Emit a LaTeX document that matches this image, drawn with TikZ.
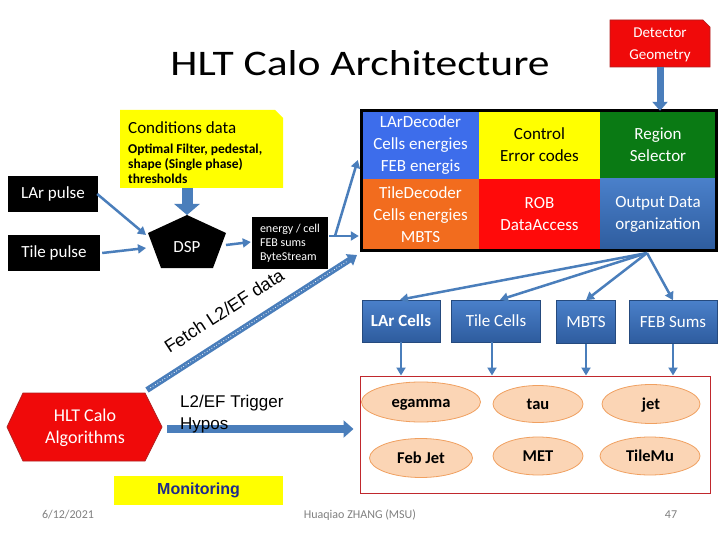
\documentclass[tikz,border=0pt]{standalone}
\usepackage{fontspec}
\setmainfont{Carlito}
\newfontfamily\arialf{Liberation Sans}
\usetikzlibrary{shapes.geometric,arrows.meta,calc}
\definecolor{abl}{HTML}{4A7EBB}
\definecolor{larblue}{HTML}{3D6DEB}
\definecolor{ctrlyel}{HTML}{FFFF00}
\definecolor{regg}{HTML}{0A7A14}
\definecolor{tileor}{HTML}{F26C1E}
\definecolor{robred}{HTML}{FF0A0A}
\definecolor{steelt}{HTML}{4A80CA}
\definecolor{steelb}{HTML}{2E5C9E}
\definecolor{peach}{HTML}{FBD5B5}
\definecolor{peachb}{HTML}{F0A060}
\definecolor{framec}{HTML}{C0282D}
\definecolor{monblue}{HTML}{1F2A8C}
\definecolor{footg}{HTML}{808080}
\definecolor{hexred}{HTML}{F00A0A}
\definecolor{hexbd}{HTML}{B02020}
\begin{document}
\begin{tikzpicture}[x=1pt,y=-1pt,
  cell/.style={rectangle, inner sep=0, align=center, text=white, font=\fontsize{17}{22}\selectfont},
  blk/.style={rectangle, fill=black, text=white, inner sep=0},
  outbox/.style={rectangle, inner sep=0, top color=steelt, bottom color=steelb, draw=steelb!80!black, line width=0.6, text=white, font=\fontsize{17}{20}\selectfont},
  ell/.style={ellipse, inner sep=0, fill=peach, draw=peachb, line width=0.8, text height=12pt, text depth=1pt, font=\bfseries\fontsize{16.5}{19}\selectfont},
  arr/.style={abl, line width=2.5, -{Triangle[width=9,length=8]}},
  blockarr/.style={abl, line width=11, -{Triangle[width=25,length=11]}},
  foot/.style={text=footg, font=\fontsize{12}{14}\selectfont}
]
\useasboundingbox (0,0) rectangle (720,540);
\fill[white] (0,0) rectangle (720,540);

% title
\node[font=\fontsize{36}{40}\selectfont, inner sep=0] (title) at (360,63) {\scalebox{1.21}[1]{HLT Calo Architecture}};

% detector geometry
\path[fill=hexred, draw=hexbd, line width=0.6] (610,20) -- (703,20) -- (710,27) -- (710,67) -- (610,67) -- cycle;
\node[minimum width=100, minimum height=47, inner sep=0, align=center, text=white, font=\fontsize{15}{22}\selectfont] (det) at (660,45) {Detector\\Geometry};

% grid
\node[cell, fill=larblue, minimum width=117, minimum height=68] (lard) at (420.5,145) {LArDecoder\\Cells energies\\FEB energis};
\node[cell, fill=ctrlyel, text=black, minimum width=121, minimum height=68] (ctrl) at (539.5,145) {Control\\Error codes};
\node[cell, fill=regg, minimum width=116, minimum height=68] (reg) at (658,145) {Region\\Selector};
\node[cell, fill=tileor, minimum width=117, minimum height=71] (tiled) at (420.5,214.5) {TileDecoder\\Cells energies\\MBTS};
\node[cell, fill=robred, minimum width=121, minimum height=71] (rob) at (539.5,214.5) {ROB\\DataAccess};
\node[cell, top color=steelt, bottom color=steelb, minimum width=116, minimum height=71] (outd) at (658,214.5) {Output Data\\organization};
\draw[line width=3] (lard.north west) rectangle (outd.south east);

\draw[abl, line width=7, -{Triangle[width=15,length=9]}] (det.south |- 0,67) -- (det.south |- lard.north);

% conditions
\path[fill=ctrlyel] (120,110) -- (275,110) -- (283,118) -- (283,188) -- (120,188) -- cycle;
\node[minimum width=163, minimum height=78, inner sep=0] (cond) at (201.5,149) {};
\node[anchor=north west, inner sep=0, align=left, font=\bfseries\fontsize{13.5}{15}\selectfont] (condt) at (128,121) {{\mdseries\fontsize{17}{18}\selectfont Conditions data}\\[5pt]Optimal Filter, pedestal,\\shape (Single phase)\\thresholds};

% pulses
\node[blk, minimum width=90, minimum height=36, font=\fontsize{17}{18}\selectfont] (larp) at (53,194) {LAr pulse};
\node[blk, minimum width=92, minimum height=36, font=\fontsize{17}{18}\selectfont] (tilep) at (54,253) {Tile pulse};

% DSP pentagon
\coordinate (dtop) at (187,215);
\coordinate (dl) at (148,233);
\coordinate (dr) at (226,233);
\fill (dtop) -- (dl) -- (161,268) -- (213,268) -- (dr) -- cycle;
\node[text=white, font=\fontsize{17}{18}\selectfont, inner sep=0] (dsp) at (187,247) {DSP};

\node[blk, minimum width=76, minimum height=52, align=left, font=\fontsize{12}{14}\selectfont] (en) at (290,243) {energy / cell\\FEB sums\\ByteStream};

\draw[blockarr] (cond.south -| dtop) -- (dtop);
\draw[arr] ([xshift=-1pt]larp.east) -- (146,235);
\draw[arr] ([xshift=2pt]tilep.east) -- (146,248);
\draw[arr] (226,245) -- ([xshift=-1pt]en.west |- 0,242);
\coordinate (fk) at (335,236);
\draw[abl, line width=2] ([xshift=1pt]en.east |- fk) -- (fk);
\draw[arr] (fk) -- ($(lard.west)+(-4,15)$);
\draw[arr] (fk) -- ([xshift=-3pt]tiled.west |- fk);

% HLT Calo hexagon
\path[fill=hexred, draw=hexbd, line width=0.8] (7,427) -- (23,393) -- (145,393) -- (162,427) -- (145,461) -- (23,461) -- cycle;
\node[text=white, align=center, font=\fontsize{18}{22}\selectfont, inner sep=0] (hlt) at (85,428) {HLT Calo\\Algorithms};

% fetch arrow
\coordinate (fs) at (147,390);
\coordinate (fe) at (357,255);
\draw[abl, line width=6, -{Triangle[width=13,length=9]}] (fs) -- (fe);
\draw[white, line width=0.8, dotted, shorten >=12pt, shorten <=4pt] (fs) -- (fe);
\node[rotate=33, font=\arialf\fontsize{18}{20}\selectfont, inner sep=0] (fetch) at (224,311) {Fetch L2/EF data};

% frame and hypos
\node[draw=framec, line width=1, minimum width=350, minimum height=117, inner sep=0] (frame) at (535,434.5) {};
\draw[abl, line width=8, -{Triangle[width=17,length=10]}] (167,429) -- ([xshift=-6pt]frame.west |- 0,429);
\node[anchor=west, align=left, inner sep=0, font=\arialf\fontsize{17}{22}\selectfont] (hyp) at (180,414) {L2/EF Trigger\\Hypos};

% monitoring
\node[fill=ctrlyel, minimum width=169, minimum height=29, inner sep=0, text=monblue, font=\arialf\bfseries\fontsize{16}{18}\selectfont] (mon) at (198.5,490.5) {Monitoring};

% output boxes
\node[outbox, minimum width=78, minimum height=42] (lc) at (401,321) {\bfseries LAr Cells};
\node[outbox, minimum width=89, minimum height=42] (tc) at (496,321) {Tile Cells};
\node[outbox, minimum width=59, minimum height=43] (mb) at (586,322) {MBTS};
\node[outbox, minimum width=88, minimum height=43] (fb) at (673,322) {FEB Sums};

\coordinate (go) at (647,253);
\draw[arr] (go) -- ([xshift=-1pt]lc.north);
\draw[arr] (go) -- ([xshift=4pt]tc.north);
\draw[arr] (go) -- (mb.north);
\draw[arr] (go) -- (fb.north);

\draw[arr] (lc.south) -- (lc.south |- frame.north);
\draw[arr] ([xshift=-4pt]tc.south) -- ([xshift=-4pt]tc.south |- frame.north);
\draw[arr] (mb.south) -- (mb.south |- frame.north);
\draw[arr] (fb.south) -- (fb.south |- frame.north);

% ellipses
\node[ell, minimum width=119, minimum height=40] (eg) at (421,402) {egamma};
\node[ell, minimum width=90, minimum height=37] (tau) at (538,404) {tau};
\node[ell, minimum width=98, minimum height=39] (jet) at (651,404) {jet};
\node[ell, minimum width=103, minimum height=39] (fj) at (421,458) {Feb Jet};
\node[ell, minimum width=90, minimum height=38] (met) at (538,456) {MET};
\node[ell, minimum width=100, minimum height=38] (tm) at (650,456) {TileMu};

% footer
\node[foot] (date) at (68,515) {6/12/2021};
\node[foot] (auth) at (360,515) {Huaqiao ZHANG (MSU)};
\node[foot] (page) at (671,515) {47};
\end{tikzpicture}
\end{document}
